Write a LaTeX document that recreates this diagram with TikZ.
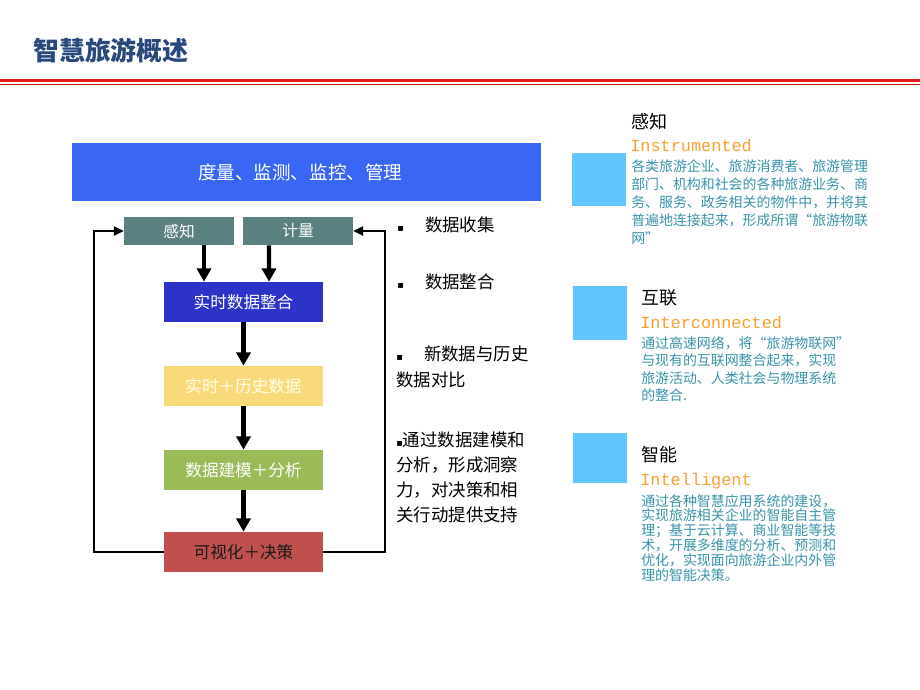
\documentclass[tikz,border=0pt]{standalone}
\usepackage{fontspec}
\setmainfont{Noto Sans CJK SC}
\newfontfamily\latinfont{Liberation Mono}
\newfontfamily\symbolfont{DejaVu Sans}
\usetikzlibrary{calc}
\usetikzlibrary{arrows.meta}

\definecolor{titleblue}{HTML}{29497C}
\definecolor{rulered}{HTML}{E41919}
\definecolor{topblue}{HTML}{3A66F5}
\definecolor{slate}{HTML}{5A8080}
\definecolor{mergeblue}{HTML}{2E33C8}
\definecolor{histyellow}{HTML}{F8DA7A}
\definecolor{modelgreen}{HTML}{9BBB59}
\definecolor{visred}{HTML}{C0504D}
\definecolor{squareblue}{HTML}{63C5FF}
\definecolor{engorange}{HTML}{F7A030}
\definecolor{bodyteal}{HTML}{3A93A8}

\newcommand{\bul}{{\symbolfont\fontsize{7}{7}\selectfont ▪}}

\begin{document}
\begin{tikzpicture}[x=0.025cm, y=-0.025cm,
    box/.style={inner sep=0pt, minimum width=3.975cm, minimum height=1cm,
        font=\fontsize{11.8}{14}\selectfont},
    smallbox/.style={box, fill=slate, text=white, minimum width=2.75cm, minimum height=0.7cm,
        font=\fontsize{11.2}{13}\selectfont},
    flow/.style={line width=3pt, -{Triangle[length=9.5pt,width=10pt]}},
    loop/.style={line width=1.4pt, -{Triangle[length=7pt,width=6.5pt]}},
    note/.style={inner sep=0pt, align=left, font=\fontsize{12.4}{17.7}\selectfont},
    head/.style={inner sep=0pt, anchor=west, font=\fontsize{12.8}{15}\selectfont},
    eng/.style={inner sep=0pt, anchor=west, text=engorange, font=\latinfont\fontsize{12}{14}\selectfont},
    body/.style={inner sep=0pt, anchor=north west, align=left, text=bodyteal}]

    % page and margins
    \fill[white] (0,0) rectangle (920,690);
    \useasboundingbox (0,0) rectangle (920,690);

    %%%%%%%%%%%%%%%%%%%%%%%%%%
    % Title
    %%%%%%%%%%%%%%%%%%%%%%%%%%
    \node[inner sep=0pt, anchor=west, text=titleblue, font=\bfseries\fontsize{18.4}{20}\selectfont] (title) at (33,51) {智慧旅游概述};
    \draw[rulered, line width=2.1pt] (0,80.5) -- (920,80.5);
    \draw[rulered!90!black, line width=0.7pt] (0,84.5) -- (920,84.5);

    %%%%%%%%%%%%%%%%%%%%%%%%%%
    % Flow chart
    %%%%%%%%%%%%%%%%%%%%%%%%%%
    \node[box, fill=topblue, text=white, minimum width=11.725cm, minimum height=1.45cm,
        font=\fontsize{13.2}{15}\selectfont] (monitor) at (306.5,172) {度量、监测、监控、管理\kern9pt};

    \node[smallbox] (sense) at (179,231) {感知};
    \node[smallbox] (measure) at (298,231) {计量};

    \node[box, fill=mergeblue, text=white] (merge) at (243.5,302) {实时数据整合};
    \node[box, fill=histyellow, text=white!92!yellow] (history) at (243.5,386) {实时＋历史数据};
    \node[box, fill=modelgreen, text=white] (model) at (243.5,470) {数据建模＋分析};
    \node[box, fill=visred, text=black!90] (vis) at (243.5,552) {可视化＋决策};

    % draw arrows
    \draw[flow] ($(sense.south)+(25,0)$) -- ($(merge.north)+(-39.5,0)$);
    \draw[flow] ($(measure.south)+(-29,0)$) -- ($(merge.north)+(25.5,0)$);
    \draw[flow] (merge) -- (history);
    \draw[flow] (history) -- (model);
    \draw[flow] (model) -- (vis);

    % draw feedback
    \draw[loop] (vis.west) -- ++(-70,0) |- (sense.west);
    \draw[loop] (vis.east) -- ++(62,0) |- (measure.east);

    %%%%%%%%%%%%%%%%%%%%%%%%%%
    % Notes
    %%%%%%%%%%%%%%%%%%%%%%%%%%
    \node[note, anchor=west] (collect) at (397,225) {\bul\hspace{15pt}数据收集};
    \node[note, anchor=west] (integrate) at (397,282) {\bul\hspace{15pt}数据整合};
    \node[note, anchor=north west, font=\fontsize{12.4}{19}\selectfont] (compare) at (396,345) {\bul\hspace{15pt}新数据与历史\\数据对比};
    \node[note, anchor=north west] (insight) at (396,432) {\bul 通过数据建模和\\分析，形成洞察\\力，对决策和相\\关行动提供支持};

    %%%%%%%%%%%%%%%%%%%%%%%%%%
    % Right panel
    %%%%%%%%%%%%%%%%%%%%%%%%%%
    \fill[squareblue] (572,153) rectangle (626,206);
    \fill[squareblue] (573,286) rectangle (627,340);
    \fill[squareblue] (573,433) rectangle (627,483);

    % instrumented
    \node[head] (h1) at (631,122) {感知};
    \node[eng] (e1) at (630,145) {Instrumented};
    \node[body, font=\fontsize{9.9}{12.8}\selectfont] (b1) at (631,159) {各类旅游企业、旅游消费者、旅游管理\\部门、机构和社会的各种旅游业务、商\\务、服务、政务相关的物件中，并将其\\普遍地连接起来，形成所谓“旅游物联\\网”};

    % interconnected
    \node[head] (h2) at (641,298) {互联};
    \node[eng] (e2) at (640,322) {Interconnected};
    \node[body, font=\fontsize{9.9}{12.5}\selectfont] (b2) at (641,336) {通过高速网络，将“旅游物联网”\\与现有的互联网整合起来，实现\\旅游活动、人类社会与物理系统\\的整合.};

    % intelligent
    \node[head] (h3) at (641,455) {智能};
    \node[eng] (e3) at (640,481) {Intelligent};
    \node[body, font=\fontsize{9.9}{10.6}\selectfont] (b3) at (641,494) {通过各种智慧应用系统的建设，\\实现旅游相关企业的智能自主管\\理；基于云计算、商业智能等技\\术，开展多维度的分析、预测和\\优化，实现面向旅游企业内外管\\理的智能决策。};
\end{tikzpicture}
\end{document}
